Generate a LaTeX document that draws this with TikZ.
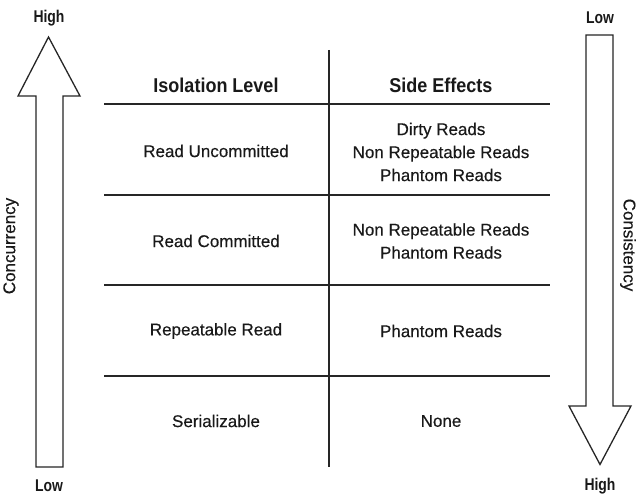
\documentclass[tikz,border=0pt]{standalone}
\usepackage{fontspec}
\setmainfont{Liberation Sans}[FakeBold=0.35]
\newfontface\hdfont{Liberation Sans Bold}[FakeStretch=0.9]
\newfontface\hlfont{Liberation Sans Bold}[FakeStretch=0.82]
\newfontfamily\sidefont{Liberation Sans}[FakeBold=0.35]
\begin{document}
\begin{tikzpicture}[x=1pt,y=-1pt,
  tline/.style={line width=2pt,draw=black!85},
  arrowshape/.style={line width=1.3pt,draw=black!85,fill=white,line join=miter},
  hd/.style={font=\hdfont\fontsize{20}{24}\selectfont,text=black!90,inner sep=0pt},
  cell/.style={font=\fontsize{17}{23}\selectfont,align=center,text=black!90,inner sep=0pt},
  hl/.style={font=\hlfont\fontsize{17}{20}\selectfont,text=black!90,inner sep=0pt},
  side/.style={font=\sidefont\fontsize{17}{20}\selectfont,text=black!90,inner sep=0pt}]
\useasboundingbox (0,0) rectangle (640,497);
% left arrow (concurrency)
\draw[arrowshape] (36,467) -- (36,96) -- (18,96) -- (48.5,37) -- (80,96) -- (63,96) -- (63,467) -- cycle;
% right arrow (consistency)
\draw[arrowshape] (586,35) -- (613,35) -- (613,406) -- (631,406) -- (600,464.5) -- (569,406) -- (586,406) -- cycle;
\node[hl] (lhigh) at (49,18) {High};
\node[hl] (llow) at (49,486) {Low};
\node[hl] (rlow) at (600,18) {Low};
\node[hl] (rhigh) at (600,486) {High};
\node[side,rotate=90] (conc) at (11,246) {Concurrency};
\node[side,rotate=-90] (cons) at (628,245) {Consistency};
% table lines
\coordinate (vt) at (329,50);
\coordinate (vb) at (329,467);
\draw[tline] (vt) -- (vb);
\foreach \yy/\nm in {104/h1,195/h2,285/h3,376/h4}{
  \coordinate (\nm l) at (104,\yy);
  \coordinate (\nm r) at (550,\yy);
  \draw[tline] (\nm l) -- (\nm r);
}
% headers
\node[hd] (hiso) at (216,85) {Isolation Level};
\node[hd] (hside) at (441,85) {Side Effects};
% rows
\node[cell] (r1a) at (216,151) {Read Uncommitted};
\node[cell] (r1b) at (441,152) {Dirty Reads\\Non Repeatable Reads\\Phantom Reads};
\node[cell] (r2a) at (216,241) {Read Committed};
\node[cell] (r2b) at (441,241) {Non Repeatable Reads\\Phantom Reads};
\node[cell] (r3a) at (216,331) {Repeatable Read};
\node[cell] (r3b) at (441,331) {Phantom Reads};
\node[cell] (r4a) at (216,421) {Serializable};
\node[cell] (r4b) at (441,421) {None};
\end{tikzpicture}
\end{document}
